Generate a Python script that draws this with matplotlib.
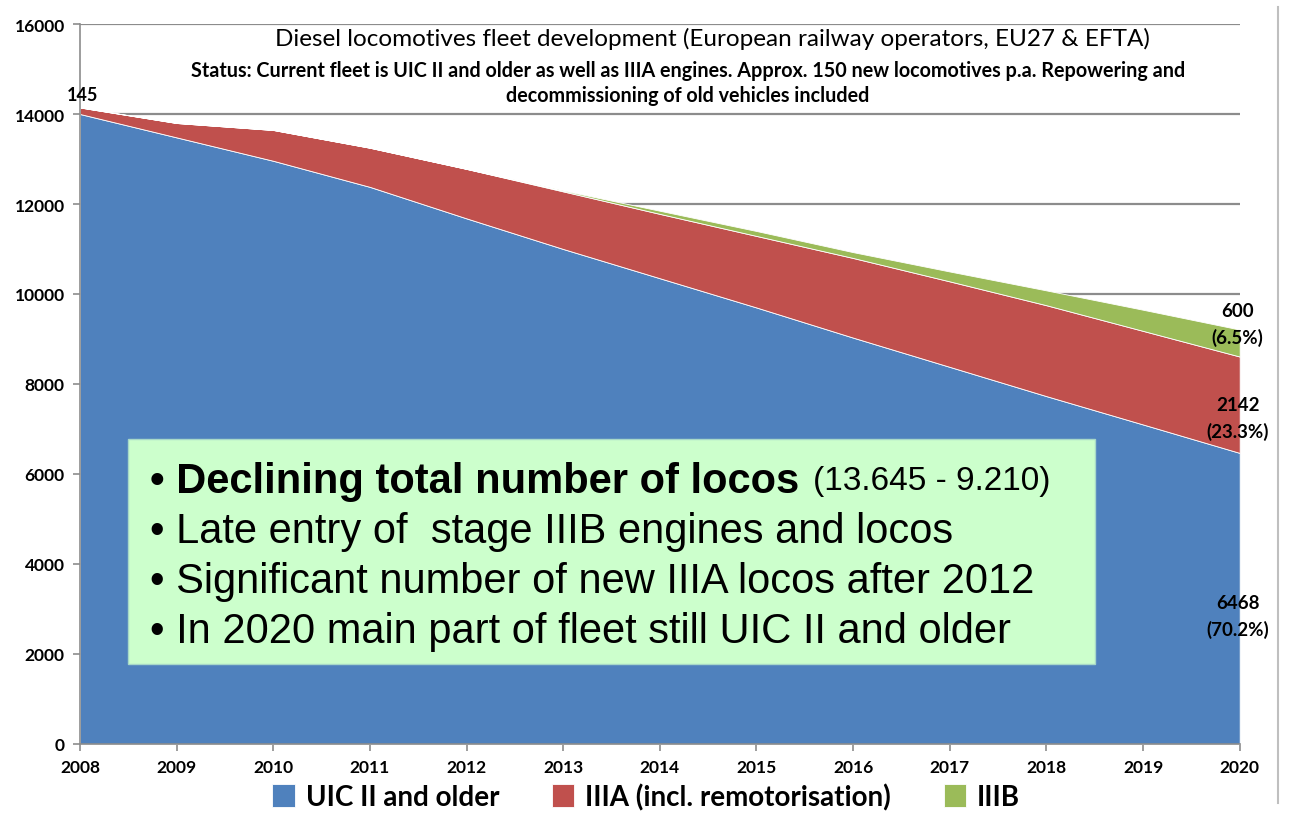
import matplotlib.pyplot as plt
from matplotlib.patches import Rectangle
from matplotlib.lines import Line2D

years = [2008, 2009, 2010, 2011, 2012, 2013, 2014, 2015, 2016, 2017, 2018, 2019, 2020]
uic_old = [14000, 13480, 12960, 12380, 11680, 11000, 10350, 9700, 9030, 8380, 7730, 7100, 6468]
iiia = [145, 320, 685, 870, 1100, 1280, 1430, 1590, 1770, 1900, 2020, 2080, 2142]
iiib = [0, 0, 0, 0, 0, 20, 70, 110, 130, 220, 330, 470, 600]
series_names = ["UIC II and older", "IIIA (incl. remotorisation)", "IIIB"]
colors = ["#4F81BD", "#C0504D", "#9BBB59"]

bullets = ["Declining total number of locos", "Late entry of  stage IIIB engines and locos",
           "Significant number of new IIIA locos after 2012",
           "In 2020 main part of fleet still UIC II and older"]

txt_font = ["Lato", "DejaVu Sans"]
box_font = ["Liberation Sans", "DejaVu Sans"]

fig = plt.figure(figsize=(12.9, 8.2), dpi=100)
ax = fig.add_axes([0.062, 0.0915, 0.899, 0.878])

ax.stackplot(years, uic_old, iiia, iiib, colors=colors, labels=series_names,
             edgecolor="white", linewidth=0.6, zorder=2)

ax.set_xlim(2008, 2020)
ax.set_ylim(0, 16000)
ax.set_xticks(years)
ax.set_yticks(range(0, 16001, 2000))
ax.yaxis.grid(True, color="#8c8c8c", linewidth=1.6, zorder=0)
ax.set_axisbelow(True)
for side in ["top", "right"]:
    ax.spines[side].set_visible(False)
for side in ["left", "bottom"]:
    ax.spines[side].set_color("#8c8c8c")
    ax.spines[side].set_linewidth(1.2)
ax.tick_params(colors="#8c8c8c", length=5, width=1.2, labelcolor="black", pad=6)
for lab in ax.get_xticklabels() + ax.get_yticklabels():
    lab.set_fontfamily(txt_font)
    lab.set_fontweight("bold")
    lab.set_fontsize(12.5)

# titles inside the plot area
ax.text(2014.54, 15700, "Diesel locomotives fleet development (European railway operators, EU27 & EFTA)",
        ha="center", va="center", fontsize=17.5, family=txt_font)
ax.text(2014.29, 15200, "Status: Current fleet is UIC II and older as well as IIIA engines. "
        "Approx. 150 new locomotives p.a. Repowering and\ndecommissioning of old vehicles included",
        ha="center", va="top", fontsize=14.2, fontweight="bold", family=txt_font, linespacing=1.3)

# value labels
ax.text(2008.03, 14250, str(iiia[0]), ha="center", va="bottom", fontsize=13,
        fontweight="bold", family=txt_font)
total_2020 = uic_old[-1] + iiia[-1] + iiib[-1]
label_pos = [(uic_old[-1], 2850), (iiia[-1], 7250), (iiib[-1], 9330)]
for val, ypos in label_pos:
    ax.text(2019.98, ypos, f"{val}\n({val / total_2020 * 100:.1f}%)", ha="center",
            va="center", fontsize=13.5, fontweight="bold", family=txt_font, linespacing=1.6,
            zorder=5)

# highlighted note box
ax.add_patch(Rectangle((2008.5, 1780), 10.0, 5000, facecolor="#CCFFCC",
                       edgecolor="#a8d8c8", linewidth=1, zorder=4))
line_y = [5850, 4730, 3620, 2510]
for i, (txt, y) in enumerate(zip(bullets, line_y)):
    if i == 0:
        t = ax.text(2008.72, y, "\u2022 " + txt, ha="left", va="center", fontsize=30,
                    fontweight="bold", family=box_font, zorder=5)
        fig.canvas.draw()
        bb = t.get_window_extent().transformed(ax.transData.inverted())
        ax.text(bb.x1 + 0.15, y, "(13.645 - 9.210)", ha="left", va="center",
                fontsize=24, family=box_font, zorder=5)
    else:
        ax.text(2008.72, y, "\u2022 " + txt, ha="left", va="center", fontsize=30,
                family=box_font, zorder=5)

fig.add_artist(Line2D([0.991, 0.991], [0.02, 0.99], color="#bfbfbf", linewidth=1.5))

handles, labels = ax.get_legend_handles_labels()
fig.legend(handles, labels, loc="lower center", bbox_to_anchor=(0.501, -0.02), ncol=3,
           frameon=False, prop={"family": txt_font, "size": 20, "weight": "bold"},
           handlelength=0.8, handleheight=0.9, columnspacing=1.9, handletextpad=0.4)

fig.savefig("out.png", dpi=100)
